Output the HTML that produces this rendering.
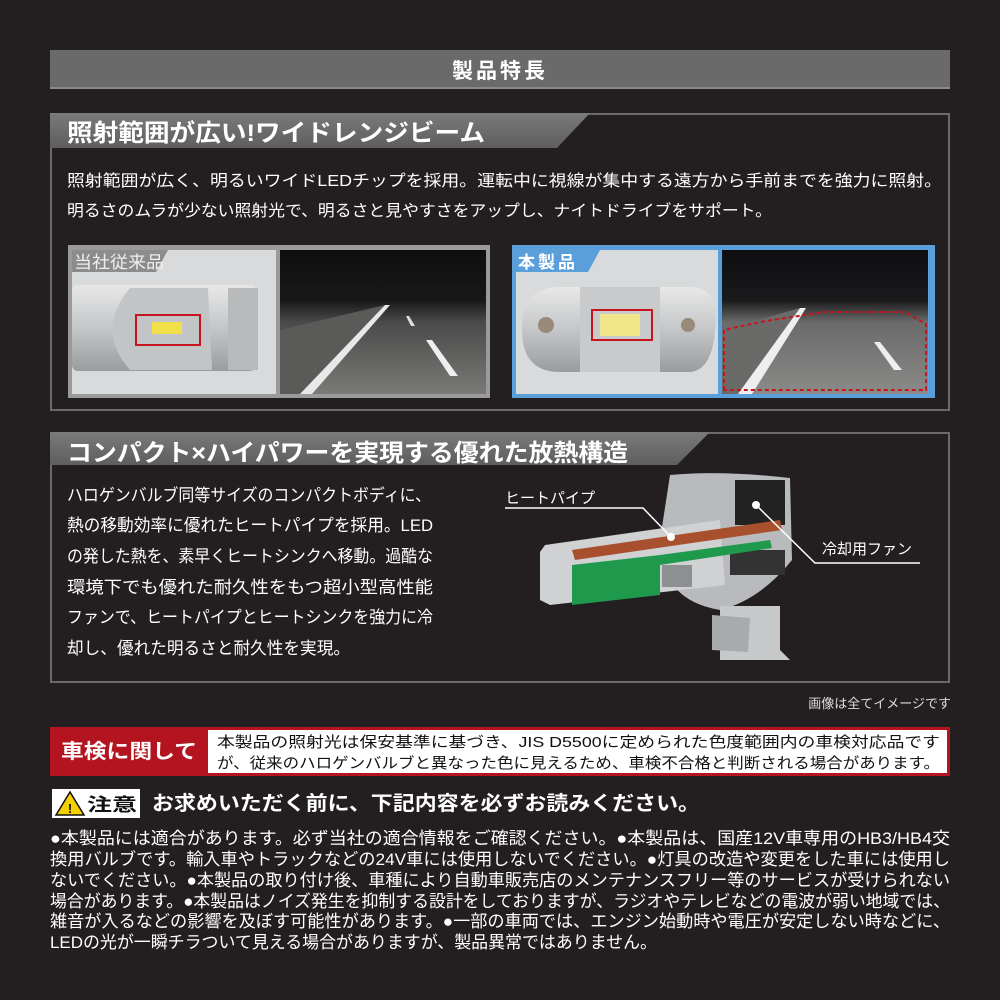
<!DOCTYPE html>
<html><head><meta charset="utf-8"><style>
html,body{margin:0;padding:0;background:#231e1f;}
svg{display:block}
text{font-family:"Liberation Sans","Noto Sans CJK JP",sans-serif;}
</style></head><body>
<svg width="1000" height="1000" viewBox="0 0 1000 1000" xmlns="http://www.w3.org/2000/svg">
<defs>
<linearGradient id="band" x1="0" y1="0" x2="0" y2="1"><stop offset="0" stop-color="#7a7a7a"/><stop offset="1" stop-color="#5e5e5e"/></linearGradient>
<linearGradient id="road" x1="0" y1="0" x2="0" y2="1"><stop offset="0" stop-color="#0e0e0e"/><stop offset="0.35" stop-color="#181818"/><stop offset="0.5" stop-color="#4a4a4a"/><stop offset="1" stop-color="#7a7a76"/></linearGradient>
<linearGradient id="road2" x1="0" y1="0" x2="0" y2="1"><stop offset="0" stop-color="#0e0e10"/><stop offset="0.35" stop-color="#1a1a1c"/><stop offset="0.5" stop-color="#6a6a6a"/><stop offset="1" stop-color="#8a8a88"/></linearGradient>
<linearGradient id="metal" x1="0" y1="0" x2="0" y2="1"><stop offset="0" stop-color="#e8e8e8"/><stop offset="0.5" stop-color="#c4c6c8"/><stop offset="1" stop-color="#9a9c9e"/></linearGradient>
</defs>
<rect width="1000" height="1000" fill="#231e1f"/>
<rect x="50" y="50" width="900" height="38" fill="#6a6a6a"/>
<rect x="50" y="87" width="900" height="2" fill="#8a8a8a"/>
<text x="500" y="78" font-size="21" font-weight="bold" fill="#fff" text-anchor="middle" letter-spacing="3">製品特長</text>

<rect x="51" y="114" width="898" height="296" fill="none" stroke="#6a6a6a" stroke-width="2"/>
<polygon points="50,113 590,113 557,148 50,148" fill="url(#band)"/>
<text x="67" y="141" font-size="24" font-weight="bold" fill="#fff" textLength="418" lengthAdjust="spacingAndGlyphs">照射範囲が広い!ワイドレンジビーム</text>
<text x="67" y="186" font-size="16" fill="#fff" textLength="875" lengthAdjust="spacingAndGlyphs">照射範囲が広く、明るいワイドLEDチップを採用。運転中に視線が集中する遠方から手前までを強力に照射。</text>
<text x="67" y="216" font-size="16" fill="#fff" textLength="705" lengthAdjust="spacingAndGlyphs">明るさのムラが少ない照射光で、明るさと見やすさをアップし、ナイトドライブをサポート。</text>

<rect x="68" y="245" width="422" height="153" fill="#9a9a9a"/>
<rect x="72" y="250" width="204" height="144" fill="#d9dadb"/>
<polygon points="72,250 168,250 156,272 72,272" fill="#8c8c8c"/>
<text x="74" y="268" font-size="17" fill="#eee" textLength="90" lengthAdjust="spacingAndGlyphs">当社従来品</text>
<rect x="72" y="285" width="184" height="86" rx="6" fill="url(#metal)"/>
<path d="M130,288 L208,288 L212,370 L130,370 Q95,330 130,288Z" fill="#c2c4c6"/>
<rect x="228" y="288" width="30" height="82" fill="#b8babc"/>
<rect x="136" y="315" width="64" height="30" fill="none" stroke="#c8141e" stroke-width="2"/>
<rect x="152" y="322" width="30" height="12" fill="#f2e04a"/>
<rect x="280" y="250" width="206" height="144" fill="url(#road)"/>
<polygon points="280,394 280,330 385,305 300,394" fill="#5a5a58"/>
<polygon points="300,394 385,305 390,305 312,394" fill="#e8e8e8"/>
<polygon points="426,340 432,340 458,376 450,376" fill="#eee"/>
<polygon points="406,316 409,316 415,326 411,326" fill="#ddd"/>

<rect x="512" y="245" width="423" height="153" fill="#5b9fda"/>
<rect x="516" y="250" width="202" height="144" fill="#d9dadb"/>
<polygon points="516,250 600,250 588,272 516,272" fill="#5b9fda"/>
<text x="518" y="268" font-size="17" font-weight="bold" fill="#fff" letter-spacing="3">本製品</text>
<path d="M560,287 L690,287 Q720,287 715,330 Q712,370 690,372 L560,372 Q522,372 522,330 Q522,287 560,287Z" fill="url(#metal)"/>
<rect x="580" y="287" width="80" height="85" fill="#c8cacc"/>
<circle cx="546" cy="325" r="8" fill="#9a8a7a"/><circle cx="688" cy="325" r="7" fill="#9a8a7a"/>
<rect x="592" y="310" width="60" height="30" fill="none" stroke="#c8141e" stroke-width="2"/>
<rect x="600" y="314" width="40" height="22" fill="#f2e68a"/>
<rect x="722" y="250" width="206" height="144" fill="url(#road2)"/>
<polygon points="722,394 722,330 800,308 738,394" fill="#6a6a68"/>
<polygon points="738,394 800,308 806,308 752,394" fill="#eee"/>
<polygon points="874,342 880,342 902,370 894,370" fill="#eee"/>
<polygon points="724,390 724,330 760,322 824,312 905,312 926,324 926,390" fill="none" stroke="#c8141e" stroke-width="2" stroke-dasharray="4,3"/>

<rect x="51" y="433" width="898" height="249" fill="none" stroke="#6a6a6a" stroke-width="2"/>
<polygon points="50,432 710,432 677,465 50,465" fill="url(#band)"/>
<text x="67" y="461" font-size="24" font-weight="bold" fill="#fff" textLength="561" lengthAdjust="spacingAndGlyphs">コンパクト×ハイパワーを実現する優れた放熱構造</text>
<g font-size="17" fill="#fff">
<text x="67" y="501" textLength="364" lengthAdjust="spacingAndGlyphs">ハロゲンバルブ同等サイズのコンパクトボディに、</text>
<text x="67" y="531" textLength="366" lengthAdjust="spacingAndGlyphs">熱の移動効率に優れたヒートパイプを採用。LED</text>
<text x="67" y="562" textLength="366" lengthAdjust="spacingAndGlyphs">の発した熱を、素早くヒートシンクへ移動。過酷な</text>
<text x="67" y="593" textLength="366" lengthAdjust="spacingAndGlyphs">環境下でも優れた耐久性をもつ超小型高性能</text>
<text x="67" y="623" textLength="366" lengthAdjust="spacingAndGlyphs">ファンで、ヒートパイプとヒートシンクを強力に冷</text>
<text x="67" y="654" textLength="283" lengthAdjust="spacingAndGlyphs">却し、優れた明るさと耐久性を実現。</text>
</g>
<path d="M670,475 Q720,470 790,478 L792,560 Q760,600 720,610 Q660,600 660,540Z" fill="#b8babd"/>
<path d="M720,606 L780,606 L780,650 L790,660 L720,660Z" fill="#c6c8ca"/>
<path d="M712,615 L750,618 L748,652 L712,650Z" fill="#a8aaac"/>
<rect x="735" y="480" width="50" height="45" fill="#222"/>
<rect x="730" y="550" width="55" height="25" fill="#333"/>
<polygon points="545,545 720,520 725,585 550,605 540,600 540,552" fill="#cfd1d3"/>
<polygon points="572,550 780,520 782,530 575,560" fill="#a8502e"/>
<polygon points="572,565 660,555 660,595 572,605" fill="#1f9a4c"/>
<polygon points="660,555 770,540 772,548 660,565" fill="#1f9a4c"/>
<rect x="662" y="565" width="30" height="22" fill="#8d8f90"/>
<text x="505" y="503" font-size="15" fill="#fff">ヒートパイプ</text>
<polyline points="505,508 643,508 671,537" fill="none" stroke="#fff" stroke-width="1.5"/>
<circle cx="671" cy="537" r="4" fill="#fff"/>
<text x="822" y="554" font-size="15" fill="#fff">冷却用ファン</text>
<polyline points="920,563 815,563 756,505" fill="none" stroke="#fff" stroke-width="1.5"/>
<circle cx="756" cy="505" r="4" fill="#fff"/>

<text x="951" y="708" font-size="13" fill="#ddd" text-anchor="end">画像は全てイメージです</text>

<rect x="50" y="727" width="900" height="49" fill="#b3141f"/>
<rect x="208" y="730" width="739" height="43" fill="#fff"/>
<text x="61" y="758" font-size="20" font-weight="bold" fill="#fff" textLength="136" lengthAdjust="spacingAndGlyphs">車検に関して</text>
<text x="217" y="747" font-size="15" fill="#111" textLength="723" lengthAdjust="spacingAndGlyphs">本製品の照射光は保安基準に基づき、JIS  D5500に定められた色度範囲内の車検対応品です</text>
<text x="217" y="768" font-size="15" fill="#111" textLength="723" lengthAdjust="spacingAndGlyphs">が、従来のハロゲンバルブと異なった色に見えるため、車検不合格と判断される場合があります。</text>

<rect x="52" y="789" width="88" height="29" fill="#fff"/>
<polygon points="70,792 84,815 56,815" fill="#f5d000" stroke="#111" stroke-width="1.5"/>
<text x="70" y="813" font-size="13" font-weight="bold" fill="#111" text-anchor="middle">!</text>
<text x="87" y="811" font-size="18" font-weight="bold" fill="#111" textLength="50" lengthAdjust="spacingAndGlyphs">注意</text>
<text x="152" y="810" font-size="20" font-weight="bold" fill="#fff" textLength="548" lengthAdjust="spacingAndGlyphs">お求めいただく前に、下記内容を必ずお読みください。</text>

<g font-size="17" fill="#fff">
<text x="50" y="844" textLength="900" lengthAdjust="spacingAndGlyphs">●本製品には適合があります。必ず当社の適合情報をご確認ください。●本製品は、国産12V車専用のHB3/HB4交</text>
<text x="50" y="865" textLength="900" lengthAdjust="spacingAndGlyphs">換用バルブです。輸入車やトラックなどの24V車には使用しないでください。●灯具の改造や変更をした車には使用し</text>
<text x="50" y="886" textLength="900" lengthAdjust="spacingAndGlyphs">ないでください。●本製品の取り付け後、車種により自動車販売店のメンテナンスフリー等のサービスが受けられない</text>
<text x="50" y="907" textLength="900" lengthAdjust="spacingAndGlyphs">場合があります。●本製品はノイズ発生を抑制する設計をしておりますが、ラジオやテレビなどの電波が弱い地域では、</text>
<text x="50" y="927" textLength="900" lengthAdjust="spacingAndGlyphs">雑音が入るなどの影響を及ぼす可能性があります。●一部の車両では、エンジン始動時や電圧が安定しない時などに、</text>
<text x="50" y="948" textLength="607" lengthAdjust="spacingAndGlyphs">LEDの光が一瞬チラついて見える場合がありますが、製品異常ではありません。</text>
</g>
</svg>
</body></html>
